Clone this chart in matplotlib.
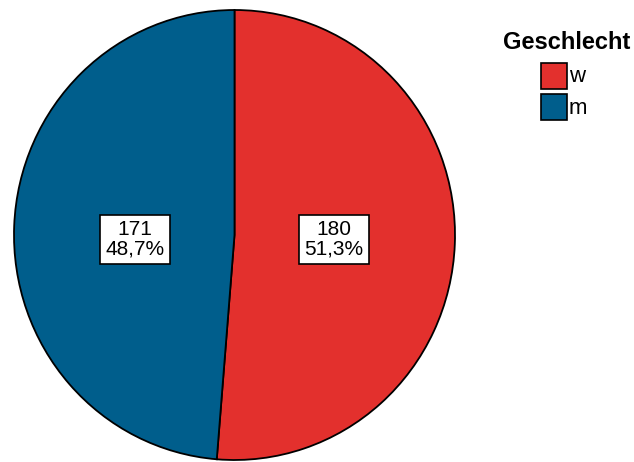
import matplotlib
matplotlib.use("Agg")
import matplotlib.pyplot as plt
from matplotlib.patches import Rectangle

plt.rcParams['font.family'] = ['Liberation Sans', 'DejaVu Sans']

categories = ["w", "m"]
counts = [180, 171]
colors = ["#E3302D", "#005E8C"]
legend_title = "Geschlecht"

W, H = 634, 462
fig = plt.figure(figsize=(W / 100, H / 100), dpi=100)
# pie area in pixel coordinates (slightly taller than wide)
left, right, top, bottom = 14, 455, 10, 460
ax = fig.add_axes([left / W, (H - bottom) / H, (right - left) / W, (bottom - top) / H])

total = sum(counts)

def fmt(pct):
    n = int(round(pct * total / 100))
    return f"{n}\n{pct:.1f}%".replace(".", ",")

wedges, texts, autotexts = ax.pie(
    counts, colors=colors, startangle=90, counterclock=False,
    autopct=fmt, pctdistance=0.45,
    wedgeprops=dict(edgecolor="black", linewidth=1.3),
    textprops=dict(fontsize=15, color="black", linespacing=1.05),
)
# labels sit on a common horizontal line, left/right of the centre
for t in autotexts:
    x, _ = t.get_position()
    t.set_position((0.45 if x > 0 else -0.45, -0.02))
    t.set_bbox(dict(boxstyle="square,pad=0.26", facecolor="white", edgecolor="black", linewidth=1.2))
    t.set_ha("center")
    t.set_va("center")
    t.set_multialignment("center")

ax.set_aspect("auto")
ax.set_xlim(-1.0, 1.0)
ax.set_ylim(-1.0, 1.0)
ax.axis("off")

# legend drawn in figure pixel coordinates
def fx(px):
    return px / W

def fy(py):
    return 1 - py / H

fig.text(fx(567), fy(49), legend_title, ha="center", va="baseline",
         fontsize=17, fontweight="bold")
sq = 26
for i, (lab, c) in enumerate(zip(categories, colors)):
    y0 = 63 + i * 31
    fig.patches.append(Rectangle((fx(541), fy(y0 + sq)), sq / W, sq / H,
                                 transform=fig.transFigure, facecolor=c,
                                 edgecolor="black", linewidth=1.2))
    fig.text(fx(569), fy(y0 + sq / 2 + 1), lab, ha="left", va="center", fontsize=16)

fig.savefig("out.png", dpi=100)
